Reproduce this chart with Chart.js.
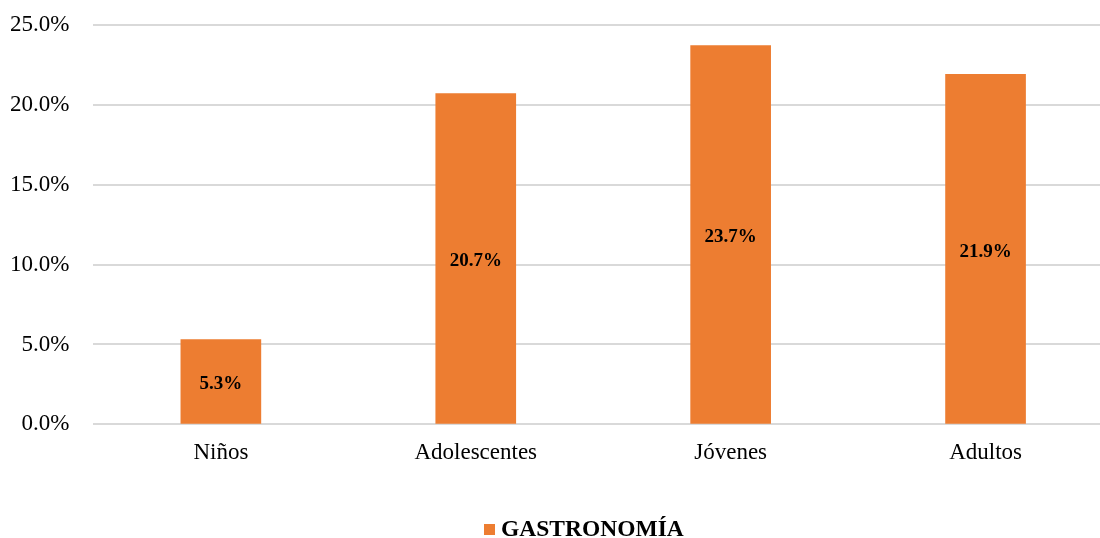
<html lang="es">
<head>
<meta charset="UTF-8">
<title>Gastronomía</title>
<script src="https://cdn.jsdelivr.net/npm/chart.js"></script>
<style>
  body { margin: 0; background: #fff; overflow: hidden; }
  #wrap { position: relative; width: 1100px; height: 538px; overflow: hidden; }
  #chart { position: absolute; left: 0; top: -13px; }
  #legend { position: absolute; left: 484px; top: 513px; font-family: "Liberation Serif", "Times New Roman", serif;
            font-weight: bold; font-size: 23.5px; color: #000; white-space: nowrap; line-height: 30px; }
  #legend span.box { display: inline-block; width: 11px; height: 11px; background: #ED7D31; margin-right: 6px; vertical-align: 1px; }
</style>
</head>
<body>
<div id="wrap">
  <canvas id="chart" width="1113" height="551"></canvas>
  <div id="legend"><span class="box"></span>GASTRONOMÍA</div>
</div>
<script>
// data
const categories = ['Niños', 'Adolescentes', 'Jóvenes', 'Adultos'];
const gastronomia = [5.3, 20.7, 23.7, 21.9];
const seriesName = 'GASTRONOMÍA';

const serif = '"Liberation Serif", "Times New Roman", serif';

// draws the value labels in the middle of each bar
const barLabels = {
  id: 'barLabels',
  afterDatasetsDraw(chart) {
    const ctx = chart.ctx;
    const meta = chart.getDatasetMeta(0);
    ctx.save();
    ctx.font = 'bold 19px ' + serif;
    ctx.fillStyle = '#000';
    ctx.textAlign = 'center';
    ctx.textBaseline = 'middle';
    meta.data.forEach((bar, i) => {
      const y = (bar.y + bar.base) / 2 + 3;
      ctx.fillText(gastronomia[i].toFixed(1) + '%', bar.x, y);
    });
    ctx.restore();
  }
};

new Chart(document.getElementById('chart'), {
  type: 'bar',
  data: {
    labels: categories,
    datasets: [{
      label: seriesName,
      data: gastronomia,
      backgroundColor: '#ED7D31',
      barThickness: 80
    }]
  },
  options: {
    responsive: false,
    animation: false,
    layout: { padding: { left: -14, right: 0, top: 0, bottom: 56 } },
    plugins: {
      legend: { display: false },
      tooltip: { enabled: false }
    },
    scales: {
      x: {
        grid: { display: false, drawTicks: false },
        border: { display: false },
        ticks: { color: '#000', padding: 15, font: { family: serif, size: 23 } }
      },
      y: {
        min: 0,
        max: 25,
        grid: { color: '#d9d9d9', lineWidth: 2, drawTicks: false },
        border: { display: false },
        ticks: {
          stepSize: 5,
          color: '#000',
          padding: 24,
          font: { family: serif, size: 23 },
          callback: v => v.toFixed(1) + '%'
        }
      }
    }
  },
  plugins: [barLabels]
});
</script>
</body>
</html>
